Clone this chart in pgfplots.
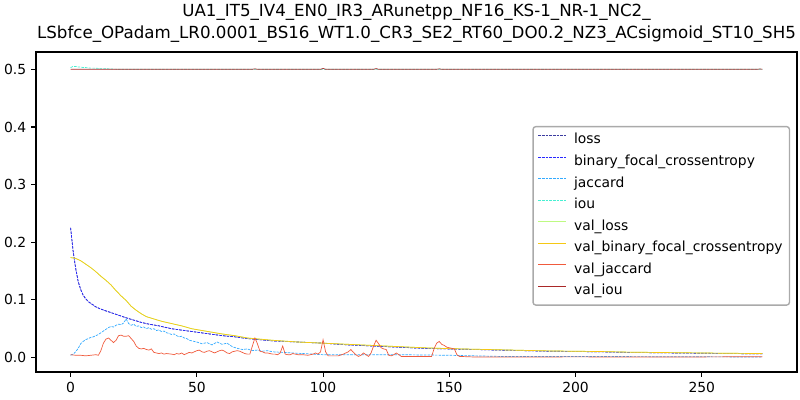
\documentclass[border=0pt]{standalone}
\usepackage{fontspec}
\setmainfont{DejaVu Sans}
\usepackage{pgfplots}
\usepackage{pgfplotstable}
\pgfplotsset{compat=1.18}
\definecolor{c1}{RGB}{60,60,160}
\definecolor{c2}{RGB}{40,40,255}
\definecolor{c3}{RGB}{50,170,255}
\definecolor{c4}{RGB}{70,240,210}
\definecolor{c5}{RGB}{190,250,130}
\definecolor{c6}{RGB}{245,200,20}
\definecolor{c7}{RGB}{240,90,60}
\definecolor{c8}{RGB}{170,40,40}
\definecolor{legframe}{RGB}{170,170,170}
\pgfplotstableread{
ep v
0 0.225
1 0.185
2 0.155
3 0.132
4 0.118
5 0.108
6 0.102
7 0.097
8 0.094
9 0.091
10 0.088
12 0.084
14 0.081
16 0.078
18 0.075
20 0.072
22 0.069
25 0.065
28 0.061
31 0.058
35 0.055
40 0.050
45 0.047
50 0.044
55 0.041
60 0.038
65 0.036
70 0.033
75 0.031
80 0.029
90 0.027
100 0.025
110 0.022
120 0.020
130 0.018
140 0.016
150 0.015
160 0.014
170 0.013
180 0.012
190 0.011
200 0.0105
210 0.010
220 0.009
230 0.0085
240 0.008
250 0.0075
260 0.007
274 0.0065
}\trainloss
\pgfplotstableread{
ep v
0 0.1735
2 0.172
4 0.168
6 0.162
8 0.156
10 0.149
12 0.141
14 0.134
16 0.126
18 0.116
20 0.107
22 0.099
24 0.089
26 0.082
28 0.076
30 0.071
33 0.067
36 0.063
40 0.059
44 0.055
48 0.050
52 0.047
56 0.044
60 0.041
65 0.038
70 0.034
75 0.032
80 0.030
90 0.027
100 0.025
110 0.023
120 0.021
130 0.019
140 0.017
150 0.0155
160 0.0145
170 0.0135
180 0.0125
190 0.0115
200 0.011
210 0.0105
220 0.0095
230 0.009
240 0.0085
250 0.008
260 0.0075
274 0.007
}\valloss
\pgfplotstableread{
ep v
0 0.004
1 0.006
2 0.010
3 0.016
4 0.024
5 0.028
6 0.031
7 0.033
8 0.035
9 0.036
10 0.038
11 0.040
12 0.043
13 0.046
14 0.049
15 0.052
16 0.054
17 0.053
18 0.056
19 0.058
20 0.057
21 0.060
22 0.067
23 0.059
24 0.056
25 0.058
26 0.054
27 0.055
28 0.052
29 0.053
30 0.050
31 0.052
32 0.049
33 0.050
34 0.047
35 0.048
36 0.045
37 0.046
38 0.043
39 0.042
40 0.040
41 0.041
42 0.038
43 0.036
44 0.037
45 0.034
46 0.033
47 0.030
48 0.029
50 0.027
52 0.024
54 0.026
56 0.022
58 0.027
60 0.023
62 0.025
64 0.019
66 0.016
68 0.014
70 0.015
72 0.012
74 0.013
76 0.011
78 0.012
80 0.010
84 0.009
88 0.008
92 0.007
96 0.006
100 0.005
110 0.005
120 0.005
130 0.005
140 0.0045
150 0.004
160 0.003
170 0.002
200 0.002
274 0.001
}\jac
\pgfplotstableread{
ep v
0 0.005
2 0.004
4 0.004
6 0.003
8 0.004
10 0.005
11 0.004
12 0.012
13 0.025
14 0.032
15 0.034
16 0.030
17 0.026
18 0.030
19 0.038
20 0.039
21 0.037
22 0.037
23 0.038
24 0.033
25 0.028
26 0.020
27 0.016
28 0.015
29 0.016
30 0.014
31 0.013
32 0.015
33 0.009
34 0.008
35 0.007
36 0.008
37 0.006
38 0.007
40 0.006
41 0.005
42 0.007
43 0.006
44 0.008
45 0.005
46 0.007
47 0.009
48 0.008
49 0.010
50 0.012
51 0.013
52 0.010
53 0.009
54 0.011
55 0.012
56 0.010
57 0.008
58 0.010
59 0.012
60 0.013
61 0.011
62 0.008
63 0.007
64 0.010
65 0.011
66 0.012
67 0.011
68 0.009
69 0.007
70 0.006
71 0.006
72 0.020
73 0.034
74 0.024
75 0.011
76 0.010
77 0.008
78 0.008
79 0.007
80 0.006
81 0.006
82 0.005
83 0.008
84 0.020
85 0.006
86 0.005
87 0.005
88 0.007
89 0.006
90 0.005
92 0.005
94 0.004
96 0.006
97 0.008
98 0.006
99 0.010
100 0.031
101 0.010
102 0.003
104 0.003
106 0.003
108 0.006
110 0.010
111 0.014
112 0.009
113 0.005
114 0.002
115 0.004
116 0.008
117 0.005
118 0.002
119 0.008
120 0.020
121 0.030
122 0.024
123 0.017
124 0.015
125 0.014
126 0.004
127 0.003
128 0.005
129 0.008
130 0.005
131 0.002
135 0.002
140 0.002
143 0.002
144 0.016
145 0.025
146 0.028
147 0.023
148 0.021
149 0.018
150 0.017
151 0.016
152 0.015
153 0.005
154 0.002
160 0.001
200 0.0012
240 0.001
274 0.0015
}\valjac
\pgfplotstableread{
ep v
0 0.503
1 0.505
2 0.505
3 0.504
4 0.504
5 0.503
6 0.503
8 0.502
10 0.502
12 0.501
14 0.501
16 0.5005
20 0.5
274 0.5
}\iou
\pgfplotstableread{
ep v
0 0.5
72 0.5
73 0.5008
74 0.5
99 0.5
100 0.5015
101 0.5
120 0.5
121 0.5012
122 0.5
145 0.5
146 0.5008
147 0.5
272 0.5
273 0.5006
274 0.5
}\valiou
\begin{document}
\begin{tikzpicture}
\path[use as bounding box] (-25.92pt,-20.16pt) rectangle (550.08pt,267.84pt);
\begin{axis}[
  at={(0pt,0pt)}, anchor=south west,
  scale only axis, width=547.92pt, height=230.4pt,
  xmin=-13.7, xmax=287.7, ymin=-0.025, ymax=0.53,
  xtick={0,50,100,150,200,250},
  ytick={0,0.1,0.2,0.3,0.4,0.5},
  yticklabel style={/pgf/number format/.cd, fixed, fixed zerofill, precision=1},
  /pgf/number format/assume math mode=true,
  ticklabel style={font=\fontsize{10}{12}\selectfont},
  tick align=outside, major tick length=3.5pt,
  every tick/.style={black, line width=0.8pt},
  xtick pos=bottom, ytick pos=left,
  axis line style={line width=0.8pt},
  no markers,
  title={UA1\_IT5\_IV4\_EN0\_IR3\_ARunetpp\_NF16\_KS-1\_NR-1\_NC2\_\\LSbfce\_OPadam\_LR0.0001\_BS16\_WT1.0\_CR3\_SE2\_RT60\_DO0.2\_NZ3\_ACsigmoid\_ST10\_SH5},
  every axis title/.style={at={(0.5,1)}, anchor=south, yshift=6.5pt, inner sep=0pt, align=center, font=\fontsize{12}{16}\selectfont},
  legend image code/.code={\draw[#1] (0pt,3.5pt) -- (20pt,3.5pt);},
  legend cell align=left,
  legend style={at={(0.991,0.769)}, anchor=north east,
    draw=legframe, line width=1pt, rounded corners=2pt,
    fill=white, font=\fontsize{10}{12}\selectfont,
    nodes={inner sep=1.5pt, text height=7.5pt, text depth=2.5pt}, row sep=2.5pt, inner sep=3.5pt,
    /tikz/every odd column/.append style={column sep=4pt}},
]
\addplot[c1, line width=0.5pt, dash pattern=on 1.85pt off 0.8pt] table[x=ep,y=v] {\trainloss};
\addlegendentry{loss}
\addplot[c2, line width=0.5pt, dash pattern=on 1.85pt off 0.8pt] table[x=ep,y=v] {\trainloss};
\addlegendentry{binary\_focal\_crossentropy}
\addplot[c3, line width=0.5pt, dash pattern=on 1.85pt off 0.8pt] table[x=ep,y=v] {\jac};
\addlegendentry{jaccard}
\addplot[c4, line width=0.5pt, dash pattern=on 1.85pt off 0.8pt] table[x=ep,y=v] {\iou};
\addlegendentry{iou}
\addplot[c5, line width=0.5pt] table[x=ep,y=v] {\valloss};
\addlegendentry{val\_loss}
\addplot[c6, line width=0.5pt] table[x=ep,y=v] {\valloss};
\addlegendentry{val\_binary\_focal\_crossentropy}
\addplot[c7, line width=0.5pt] table[x=ep,y=v] {\valjac};
\addlegendentry{val\_jaccard}
\addplot[c8, line width=0.5pt] table[x=ep,y=v] {\valiou};
\addlegendentry{val\_iou}
\end{axis}
\end{tikzpicture}
\end{document}
